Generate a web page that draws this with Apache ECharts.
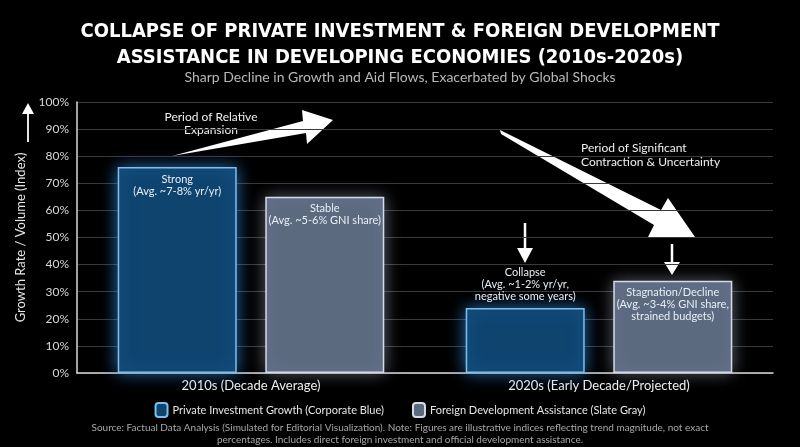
<!DOCTYPE html>
<html>
<head>
<meta charset="utf-8">
<script src="https://cdn.jsdelivr.net/npm/echarts@6/dist/echarts.min.js"></script>
<style>
  html, body { margin: 0; padding: 0; background: #000; }
  #chart { width: 800px; height: 447px; }
</style>
</head>
<body>
<div id="chart"></div>
<script>
// data
var categories = ['2010s (Decade Average)', '2020s (Early Decade/Projected)']
var privateValues = [76, 24]
var aidValues = [65, 34]
var privateNotes = ['Strong\n(Avg. ~7-8% yr/yr)', 'Collapse\n(Avg. ~1-2% yr/yr,\nnegative some years)']
var aidNotes = ['Stable\n(Avg. ~5-6% GNI share)', 'Stagnation/Decline\n(Avg. ~3-4% GNI share,\nstrained budgets)']
var yTicks = [0, 100, 10]

var bodyFont = 'Lato'
var chart = echarts.init(document.getElementById('chart'))

function barItems(values, notes, pos) {
  return values.map(function (v, i) {
    return {
      value: v,
      label: {
        show: true,
        formatter: notes[i],
        position: pos[i],
        distance: 6,
        color: '#e8eef5',
        fontFamily: bodyFont,
        fontSize: 11,
        lineHeight: 12
      }
    }
  })
}

chart.setOption({
  backgroundColor: '#000',
  animation: false,
  title: [
    {
      text: 'COLLAPSE OF PRIVATE INVESTMENT & FOREIGN DEVELOPMENT\nASSISTANCE IN DEVELOPING ECONOMIES (2010s-2020s)',
      left: 'center',
      top: 14,
      textStyle: {
        color: '#fff',
        fontFamily: "'DejaVu Sans Condensed', Lato",
        fontWeight: 'bold',
        fontSize: 20,
        lineHeight: 26
      }
    },
    {
      text: 'Sharp Decline in Growth and Aid Flows, Exacerbated by Global Shocks',
      left: 'center',
      top: 65,
      textStyle: { color: '#b8b8b8', fontFamily: bodyFont, fontWeight: 'normal', fontSize: 14 }
    }
  ],
  legend: {
    top: 397,
    left: 'center',
    itemWidth: 12,
    itemHeight: 14,
    itemGap: 28,
    textStyle: { color: '#e6e6e6', fontFamily: bodyFont, fontSize: 11 },
    data: ['Private Investment Growth (Corporate Blue)', 'Foreign Development Assistance (Slate Gray)']
  },
  grid: { left: 77, right: 27, top: 102, bottom: 74 },
  xAxis: {
    type: 'category',
    data: categories,
    axisLine: { lineStyle: { color: '#d8d8d8', width: 1.5 } },
    axisTick: { show: false },
    axisLabel: { color: '#f0f0f0', fontFamily: bodyFont, fontSize: 13, margin: 6 }
  },
  yAxis: {
    type: 'value',
    min: yTicks[0],
    max: yTicks[1],
    interval: yTicks[2],
    name: 'Growth Rate / Volume (Index)',
    nameLocation: 'middle',
    nameRotate: 90,
    nameGap: 47,
    nameTextStyle: { color: '#e6e6e6', fontFamily: bodyFont, fontSize: 13 },
    axisLine: { show: true, lineStyle: { color: '#d8d8d8', width: 1.5 } },
    axisTick: { show: false },
    axisLabel: { color: '#d8d8d8', fontFamily: bodyFont, fontSize: 12, margin: 8, formatter: '{value}%' },
    splitLine: { lineStyle: { color: '#3a3a3a', width: 1 } }
  },
  series: [
    {
      name: 'Private Investment Growth (Corporate Blue)',
      type: 'bar',
      barWidth: 119,
      barGap: '24%',
      data: barItems(privateValues, privateNotes, ['insideTop', 'top']),
      itemStyle: {
        color: '#0f446f',
        borderColor: '#7cc0ee',
        borderWidth: 1.5,
        shadowBlur: 16,
        shadowColor: 'rgba(60,150,240,0.7)'
      }
    },
    {
      name: 'Foreign Development Assistance (Slate Gray)',
      type: 'bar',
      barWidth: 119,
      data: barItems(aidValues, aidNotes, ['insideTop', 'insideTop']),
      itemStyle: {
        color: '#5c6a80',
        borderColor: '#d4dce8',
        borderWidth: 1.5,
        shadowBlur: 16,
        shadowColor: 'rgba(190,205,230,0.45)'
      }
    }
  ],
  graphic: [
    // y-axis name arrow
    { type: 'line', shape: { x1: 28, y1: 142, x2: 28, y2: 112 }, style: { stroke: '#fff', lineWidth: 1.8 } },
    { type: 'polygon', shape: { points: [[22, 114], [34, 114], [28, 103]] }, style: { fill: '#fff' } },
    // expansion arrow
    { type: 'polygon', shape: { points: [[172, 156], [303, 121], [302, 110], [333, 120], [307, 144], [306, 133]] }, style: { fill: '#fff' } },
    { type: 'text', x: 211, y: 111, style: { text: 'Period of Relative\nExpansion', fill: '#f0f0f0', font: '12px Lato', align: 'center', lineHeight: 13 } },
    // contraction arrow
    { type: 'polygon', shape: { points: [[500, 130], [501, 134], [654, 225], [648, 237], [695, 237], [668, 198], [661, 210]] }, style: { fill: '#fff' } },
    { type: 'text', x: 581, y: 141, style: { text: 'Period of Significant\nContraction & Uncertainty', fill: '#f0f0f0', font: '12px Lato', lineHeight: 14 } },
    // small down arrows
    { type: 'line', shape: { x1: 525, y1: 223, x2: 525, y2: 250 }, style: { stroke: '#fff', lineWidth: 2.5 } },
    { type: 'polygon', shape: { points: [[517, 248], [533, 248], [525, 263]] }, style: { fill: '#fff' } },
    { type: 'line', shape: { x1: 672, y1: 244, x2: 672, y2: 264 }, style: { stroke: '#fff', lineWidth: 2.5 } },
    { type: 'polygon', shape: { points: [[664, 262], [680, 262], [672, 275]] }, style: { fill: '#fff' } },
    // source note
    {
      type: 'text', x: 400, y: 422,
      style: {
        text: 'Source: Factual Data Analysis (Simulated for Editorial Visualization). Note: Figures are illustrative indices reflecting trend magnitude, not exact\npercentages. Includes direct foreign investment and official development assistance.',
        fill: '#a8a8a8', font: '10px Lato', align: 'center', lineHeight: 12
      }
    }
  ]
})
</script>
</body>
</html>
